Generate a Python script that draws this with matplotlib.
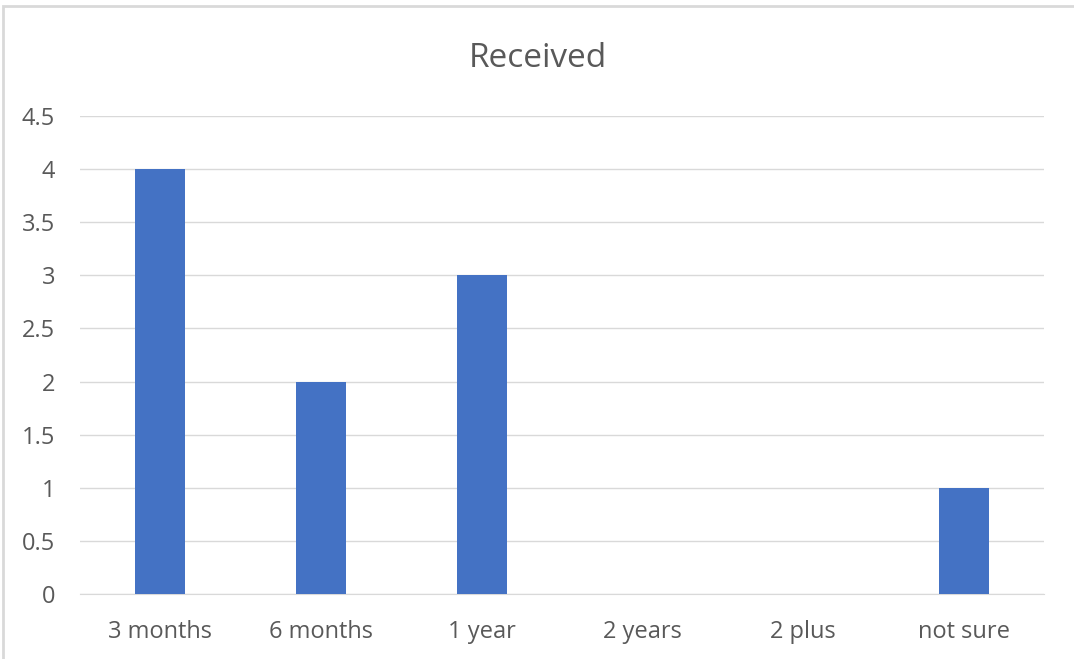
import matplotlib.pyplot as plt
from matplotlib.patches import Rectangle

categories = ['3 months', '6 months', '1 year', '2 years', '2 plus', 'not sure']
values = [4, 2, 3, 0, 0, 1]
yticks = [0, 0.5, 1, 1.5, 2, 2.5, 3, 3.5, 4, 4.5]
ytick_labels = ['0', '0.5', '1', '1.5', '2', '2.5', '3', '3.5', '4', '4.5']

W, H = 1074, 659
plt.rcParams['font.family'] = ['Open Sans', 'DejaVu Sans']

fig = plt.figure(figsize=(W / 100, H / 100), dpi=100)

# chart border (only left and top visible in the reference crop)
fig.patches.append(Rectangle((3 / W, -0.1), 1.2, 1 - 6 / H + 0.1,
                             transform=fig.transFigure, fill=False,
                             edgecolor='#d9d9d9', linewidth=2))

ax = fig.add_axes([80 / W, (H - 594) / H, (1044 - 80) / W, (594 - 116) / H])
x = range(len(categories))
ax.bar(x, values, width=0.31, color='#4472C4', zorder=3)

ax.set_xlim(-0.5, len(categories) - 0.5)
ax.set_ylim(0, 4.5)
ax.set_yticks(yticks)
ax.set_yticklabels(ytick_labels)
ax.set_xticks(list(x))
ax.set_xticklabels(categories)
ax.grid(axis='y', color='#d9d9d9', linewidth=1, zorder=0)
ax.tick_params(length=0, labelsize=17, labelcolor='#595959')
ax.tick_params(axis='x', pad=19)
ax.tick_params(axis='y', pad=18)
for s in ['top', 'right', 'left']:
    ax.spines[s].set_visible(False)
ax.spines['bottom'].set_color('#d9d9d9')

fig.text(538 / W, 1 - 67 / H, 'Received', ha='center', va='baseline',
         fontsize=24, color='#595959')

fig.savefig('out.png', dpi=100)
